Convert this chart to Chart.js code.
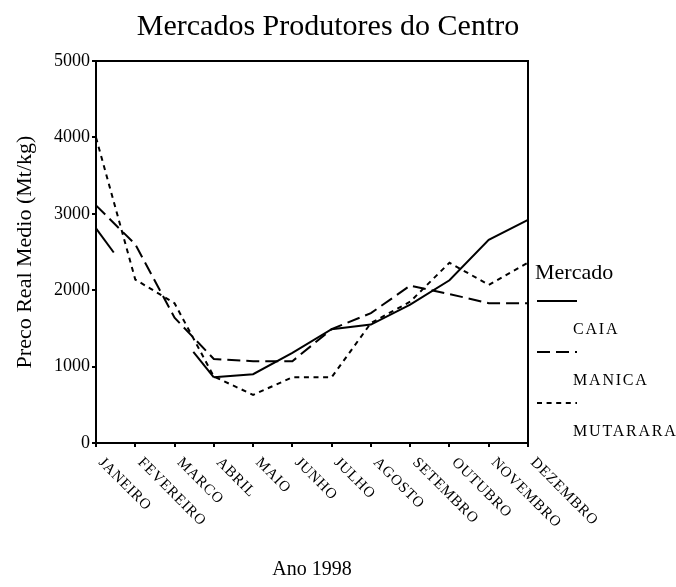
<!DOCTYPE html>
<html>
<head>
<meta charset="utf-8">
<script src="https://cdn.jsdelivr.net/npm/chart.js@4.4.1/dist/chart.umd.min.js"></script>
<style>
  html, body { margin: 0; padding: 0; background: #fff; }
  #wrap { width: 676px; height: 587px; }
</style>
</head>
<body>
<div id="wrap"><canvas id="chart" width="676" height="587"></canvas></div>
<script>
// dados
const months = ['JANEIRO', 'FEVEREIRO', 'MARCO', 'ABRIL', 'MAIO', 'JUNHO',
  'JULHO', 'AGOSTO', 'SETEMBRO', 'OUTUBRO', 'NOVEMBRO', 'DEZEMBRO']
const marketNames = ['CAIA', 'MANICA', 'MUTARARA']
const caia = [2810, 2110, 1500, 860, 900, 1180, 1490, 1550, 1810, 2130, 2660, 2920]
const manica = [3110, 2600, 1640, 1100, 1070, 1070, 1490, 1700, 2060, 1950, 1830, 1830]
const mutarara = [4000, 2140, 1830, 870, 630, 860, 860, 1570, 1850, 2360, 2070, 2360]
const yTicks = [0, 1000, 2000, 3000, 4000, 5000]

const serif = '"Liberation Serif", "Times New Roman", serif'

// a linha de CAIA aparece interrompida entre Jan e Abr no original
const caiaSegment = {
  borderDash: ctx => {
    if (ctx.p0DataIndex === 0) return [30, 1000]
    if (ctx.p0DataIndex === 2) return [0, 30, 1000]
    return undefined
  },
  borderColor: ctx => ctx.p0DataIndex === 1 ? 'rgba(0,0,0,0)' : undefined
}

const extras = {
  id: 'extras',
  beforeDatasetsDraw(chart) {
    const { ctx, chartArea: a } = chart
    ctx.save()
    ctx.strokeStyle = '#000'
    ctx.lineWidth = 2
    ctx.strokeRect(a.left, a.top, a.right - a.left, a.bottom - a.top)
    ctx.restore()
  },
  afterDraw(chart) {
    const { ctx } = chart
    const xs = chart.scales.x
    ctx.save()
    ctx.fillStyle = '#000'

    // título
    ctx.font = '30px ' + serif
    ctx.textAlign = 'center'
    ctx.textBaseline = 'middle'
    ctx.fillText('Mercados Produtores do Centro', 328, 27)

    // rótulos dos meses, inclinados para baixo
    ctx.font = '15px ' + serif
    ctx.letterSpacing = '0.8px'
    ctx.textAlign = 'left'
    ctx.textBaseline = 'top'
    months.forEach((m, i) => {
      const px = xs.getPixelForValue(i)
      ctx.save()
      ctx.translate(px + 10, xs.top + 12)
      ctx.rotate(Math.PI / 4)
      ctx.fillText(m, 0, 0)
      ctx.restore()
    })

    // legenda
    ctx.letterSpacing = '0px'
    ctx.font = '22px ' + serif
    ctx.textBaseline = 'middle'
    ctx.fillText('Mercado', 535, 273)
    chart.data.datasets.forEach((ds, i) => {
      const y = 301 + i * 51
      ctx.save()
      ctx.strokeStyle = '#000'
      ctx.lineWidth = 2
      ctx.setLineDash(ds.borderDash || [])
      ctx.beginPath()
      ctx.moveTo(537, y)
      ctx.lineTo(577, y)
      ctx.stroke()
      ctx.restore()
      ctx.font = '16px ' + serif
      ctx.letterSpacing = '1.8px'
      ctx.fillText(ds.label, 573, y + 29)
      ctx.letterSpacing = '0px'
    })
    ctx.restore()
  }
}

new Chart(document.getElementById('chart'), {
  type: 'line',
  data: {
    labels: months,
    datasets: [
      { label: marketNames[0], data: caia, borderDash: [], segment: caiaSegment },
      { label: marketNames[1], data: manica, borderDash: [13, 6] },
      { label: marketNames[2], data: mutarara, borderDash: [5, 4.6] }
    ].map(d => Object.assign({
      borderColor: '#000',
      borderWidth: 2,
      pointRadius: 0,
      fill: false,
      tension: 0
    }, d))
  },
  options: {
    responsive: false,
    animation: false,
    devicePixelRatio: 1,
    layout: { padding: { top: 61, right: 148, left: 0, bottom: 0 } },
    plugins: {
      legend: { display: false },
      title: { display: false },
      tooltip: { enabled: false }
    },
    scales: {
      x: {
        offset: false,
        afterFit: s => { s.height = 144 },
        ticks: { display: false },
        grid: { drawOnChartArea: false, color: '#000', lineWidth: 2, tickLength: 4 },
        border: { color: '#000', width: 2 },
        title: {
          display: true,
          text: 'Ano 1998',
          color: '#000',
          font: { family: serif, size: 20 },
          padding: { top: 0, bottom: 5 }
        }
      },
      y: {
        min: 0,
        max: 5000,
        afterFit: s => { s.width = 96 },
        afterBuildTicks: s => { s.ticks = yTicks.map(v => ({ value: v })) },
        ticks: {
          color: '#000',
          font: { family: serif, size: 18 },
          padding: 2,
          callback: v => String(v)
        },
        grid: { drawOnChartArea: false, color: '#000', lineWidth: 2, tickLength: 4 },
        border: { color: '#000', width: 2 },
        title: {
          display: true,
          text: 'Preco Real Medio (Mt/kg)',
          color: '#000',
          font: { family: serif, size: 22 },
          padding: { top: 12, bottom: 0 }
        }
      }
    }
  },
  plugins: [extras]
})
</script>
</body>
</html>
